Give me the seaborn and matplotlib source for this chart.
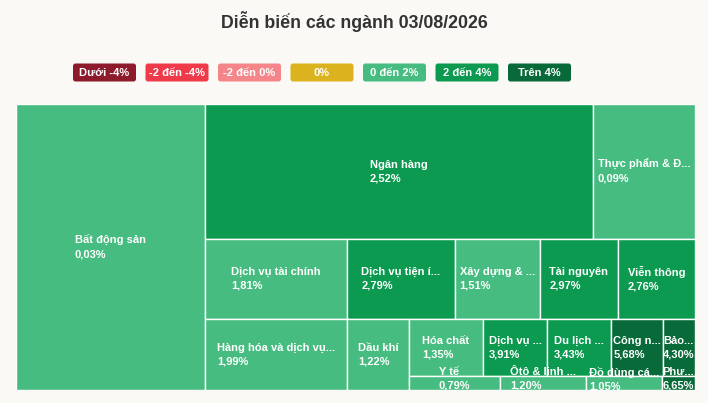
import numpy as np
import pandas as pd
import matplotlib
matplotlib.use('Agg')
import matplotlib.pyplot as plt
import seaborn as sns
from matplotlib.patches import Rectangle, FancyBboxPatch

# du lieu cac nganh (ty trong von hoa uoc luong, % thay doi)
nganh = ['Bất động sản', 'Ngân hàng', 'Thực phẩm & Đ...', 'Dịch vụ tài chính',
         'Hàng hóa và dịch vụ...', 'Dịch vụ tiện í...', 'Xây dựng & ...', 'Tài nguyên',
         'Viễn thông', 'Dầu khí', 'Hóa chất', 'Dịch vụ ...', 'Du lịch ...', 'Công n...',
         'Bảo...', 'Y tế', 'Ôtô & linh ...', 'Đồ dùng cá...', 'Phư...']
von_hoa = [539, 524, 138, 114, 101, 86, 68, 62.4, 61.6, 44, 42, 36.6, 36.4, 29.6,
           18.2, 12.7, 12.0, 10.6, 4.6]
thay_doi = [0.03, 2.52, 0.09, 1.81, 1.99, 2.79, 1.51, 2.97, 2.76, 1.22, 1.35, 3.91,
            3.43, 5.68, 4.30, 0.79, 1.20, 1.05, 6.65]

nhom = ['Dưới -4%', '-2 đến -4%', '-2 đến 0%', '0%', '0 đến 2%', '2 đến 4%', 'Trên 4%']
mau = sns.color_palette(['#8e1b2c', '#ef3a49', '#f4868a', '#dbb31e',
                         '#46bc80', '#0b9a4f', '#086a38'])

df = pd.DataFrame({'nganh': nganh, 'von_hoa': von_hoa, 'thay_doi': thay_doi})
df = df.sort_values('von_hoa', ascending=False, kind='stable').reset_index(drop=True)


def chon_mau(v):
    if v < -4:
        return mau[0]
    if v < -2:
        return mau[1]
    if v < 0:
        return mau[2]
    if v == 0:
        return mau[3]
    if v <= 2:
        return mau[4]
    if v <= 4:
        return mau[5]
    return mau[6]


def ti_le(a, b):
    return max(a / b, b / a)


# squarified xen ke huong (cot, hang, cot, ...)
def squarified(values, x, y, w, h):
    tong = sum(values)
    areas = [v / tong * w * h for v in values]
    rects = []
    doc = True
    i = 0
    n = len(areas)
    while i < n:
        row = [areas[i]]
        j = i + 1
        while j < n:
            canh = h if doc else w
            cuoi = row[-1]
            day_cu = sum(row) / canh
            r_cu = ti_le(day_cu, cuoi / day_cu)
            day_moi = (sum(row) + areas[j]) / canh
            r_moi = ti_le(day_moi, cuoi / day_moi)
            if r_moi > r_cu:
                break
            row.append(areas[j])
            j += 1
        canh = h if doc else w
        day = sum(row) / canh
        pos = y if doc else x
        for a in row:
            dai = a / day
            if doc:
                rects.append((x, pos, day, dai))
            else:
                rects.append((pos, y, dai, day))
            pos += dai
        if doc:
            x += day
            w -= day
        else:
            y += day
            h -= day
        doc = not doc
        i = j
    return rects


W, H = 679, 286
rects = squarified(df['von_hoa'].tolist(), 0, 0, W, H)

sns.set_theme(style='white', rc={'figure.facecolor': '#faf9f6', 'axes.facecolor': '#faf9f6'})
plt.rcParams['font.family'] = ['Liberation Sans', 'DejaVu Sans']

fig = plt.figure(figsize=(7.08, 4.03), dpi=100)
ax = fig.add_axes([16 / 708, 13 / 403, 679 / 708, 286 / 403])

for (rx, ry, rw, rh), ten, v in zip(rects, df['nganh'], df['thay_doi']):
    ax.add_patch(Rectangle((rx, ry), rw, rh, facecolor=chon_mau(v),
                           edgecolor='white', linewidth=1))
    nhan = ten + '\n' + f'{v:.2f}%'.replace('.', ',')
    # o nho thi day chu len mot chut
    cy = ry + rh / 2 - (4 if rh < 20 else 0)
    ax.text(rx + rw / 2, cy, nhan, ha='center', va='center',
            multialignment='left', color='white', fontsize=8, fontweight='bold',
            linespacing=1.45, clip_on=True)

ax.set_xlim(0, W)
ax.set_ylim(H, 0)
ax.axis('off')

# chu giai
ax_cg = fig.add_axes([0, 0, 1, 1])
ax_cg.set_xlim(0, 708)
ax_cg.set_ylim(403, 0)
ax_cg.axis('off')
ax_cg.patch.set_alpha(0)
for k, (ten, c) in enumerate(zip(nhom, mau)):
    x0 = 73 + k * 72.5
    ax_cg.add_patch(FancyBboxPatch((x0, 63.5), 63, 18,
                                   boxstyle='round,pad=0,rounding_size=2.5',
                                   facecolor=c, edgecolor='none'))
    ax_cg.text(x0 + 31.5, 72.5, ten, ha='center', va='center', color='white',
               fontsize=8, fontweight='bold')

fig.text(0.5, 1 - 22 / 403, 'Diễn biến các ngành 03/08/2026', ha='center', va='center',
         fontsize=12.8, fontweight='bold', color='#333333')

plt.savefig('out.png', dpi=100)
